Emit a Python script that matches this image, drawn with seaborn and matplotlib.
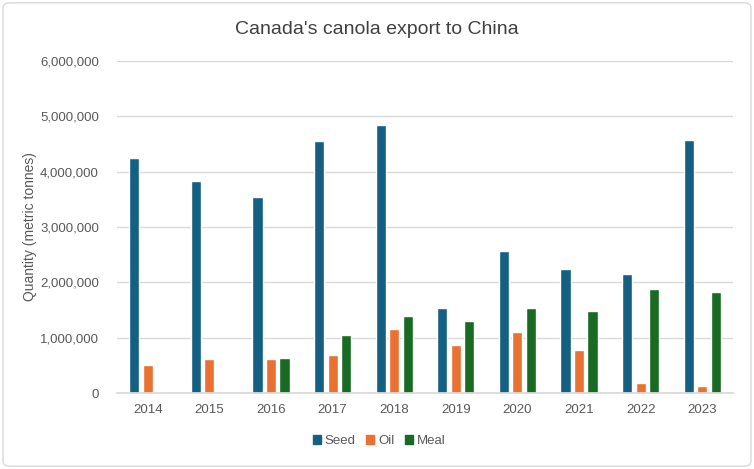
import matplotlib
matplotlib.use("Agg")
import matplotlib.pyplot as plt
from matplotlib.patches import FancyBboxPatch
from matplotlib.ticker import FuncFormatter
import seaborn as sns
import pandas as pd

years = ["2014", "2015", "2016", "2017", "2018", "2019", "2020", "2021", "2022", "2023"]
seed = [4250000, 3840000, 3550000, 4560000, 4850000, 1540000, 2570000, 2240000, 2150000, 4580000]
oil = [500000, 610000, 610000, 680000, 1160000, 860000, 1100000, 770000, 180000, 120000]
meal = [25000, 0, 640000, 1040000, 1390000, 1300000, 1530000, 1490000, 1880000, 1820000]
series = ["Seed", "Oil", "Meal"]
colors = ["#156082", "#E97132", "#196B24"]

rows = []
for name, vals in zip(series, [seed, oil, meal]):
    for y, v in zip(years, vals):
        rows.append({"Year": y, "Product": name, "Value": v})
df = pd.DataFrame(rows)

sns.set_theme(style="white")
plt.rcParams["font.family"] = ["Liberation Sans", "DejaVu Sans"]

fig = plt.figure(figsize=(7.54, 4.69), dpi=100)
fig.patches.append(FancyBboxPatch((0.004, 0.006), 0.992, 0.988, boxstyle="round,pad=0,rounding_size=0.01",
                                  transform=fig.transFigure, fill=False, edgecolor="#d9d9d9", linewidth=1.0))
ax = fig.add_axes([117/754, 76/469, 616/754, 332/469])

sns.barplot(data=df, x="Year", y="Value", hue="Product", hue_order=series, order=years,
            palette=colors, width=0.66, gap=0.25, ax=ax, legend=False, saturation=1)

ax.set_ylim(0, 6000000)
ax.set_yticks(range(0, 6000001, 1000000))
ax.yaxis.set_major_formatter(FuncFormatter(lambda v, p: f"{int(v):,}"))
ax.grid(axis="y", color="#d9d9d9", linewidth=1.0)
ax.set_axisbelow(True)
for s in ["top", "right", "left"]:
    ax.spines[s].set_visible(False)
ax.spines["bottom"].set_color("#d9d9d9")
ax.tick_params(axis="both", length=0, colors="#595959", labelsize=9.5)
ax.tick_params(axis="y", pad=13)
ax.tick_params(axis="x", pad=8)
ax.set_xlabel("")
ax.set_ylabel("")
fig.text(30/754, 1 - 227/469, "Quantity (metric tonnes)", rotation=90, ha="center", va="center",
         color="#595959", fontsize=10)

fig.text(0.5, 1 - 29/469, "Canada's canola export to China", ha="center", va="center",
         fontsize=14, color="#404040")

handles = [plt.Rectangle((0, 0), 1, 1, color=c) for c in colors]
fig.legend(handles, series, loc="center", bbox_to_anchor=(379/754, 1 - 441/469), ncol=3, frameon=False,
           fontsize=9.5, labelcolor="#595959", handlelength=0.6, handleheight=0.6,
           handletextpad=0.3, columnspacing=0.8)

fig.savefig("out.png", dpi=100)
